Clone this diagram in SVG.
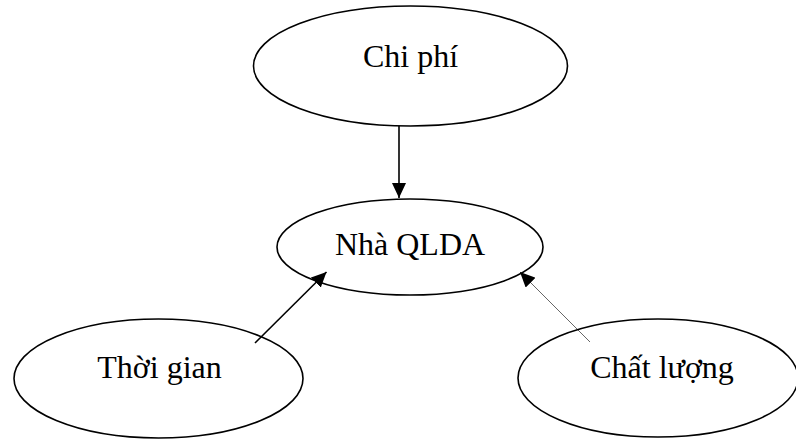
<svg xmlns="http://www.w3.org/2000/svg" width="796" height="440" viewBox="0 0 796 440">
<style>
.node ellipse{fill:#fff;stroke:#000;stroke-width:1.6}
.node text{font-family:"Liberation Serif","Times New Roman",serif;font-size:32px;fill:#000;text-anchor:middle}
.edge{stroke:#000;fill:none}
</style>
<defs>
<marker id="ah" markerUnits="userSpaceOnUse" markerWidth="16" markerHeight="14" refX="15" refY="7" orient="auto" viewBox="0 0 16 14">
<path d="M0,0 L15,7 L0,14 z" fill="#000"/>
</marker>
</defs>
<rect width="796" height="440" fill="#fff"/>
<g id="n-chiphi" class="node">
<ellipse cx="410.5" cy="66" rx="157" ry="60"/>
<text x="410.5" y="67">Chi phí</text>
</g>
<g id="n-qlda" class="node">
<ellipse cx="410" cy="247" rx="133" ry="48"/>
<text x="410" y="255">Nhà QLDA</text>
</g>
<g id="n-thoigian" class="node">
<ellipse cx="158.5" cy="378.5" rx="144.5" ry="59.5"/>
<text x="159.5" y="378">Thời gian</text>
</g>
<g id="n-chatluong" class="node">
<ellipse cx="658" cy="378" rx="140" ry="59"/>
<text x="662" y="378">Chất lượng</text>
</g>
<g id="connectors">
<line class="edge" x1="399" y1="126" x2="399" y2="198" stroke-width="1.6" marker-end="url(#ah)"/>
<line class="edge" x1="255" y1="343" x2="326.5" y2="272" stroke-width="1.6" marker-end="url(#ah)"/>
<line class="edge" x1="590" y1="342" x2="520" y2="272" stroke-width="0.6" marker-end="url(#ah)"/>
</g>
</svg>
